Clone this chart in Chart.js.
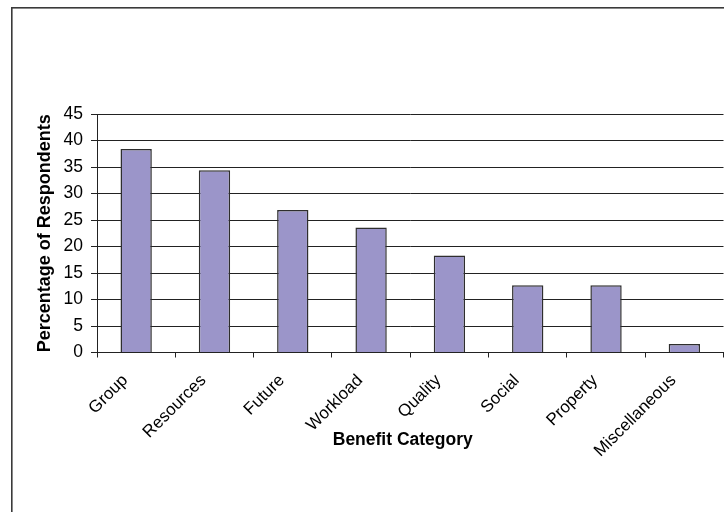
<!DOCTYPE html>
<html>
<head>
<meta charset="utf-8">
<script src="https://cdn.jsdelivr.net/npm/chart.js@4"></script>
<style>
    html, body { margin: 0; padding: 0; background: #fff; }
    #wrap { width: 724px; height: 512px; position: relative; }
</style>
</head>
<body>
<div id="wrap"><canvas id="benefitChart"></canvas></div>
<script>
// Benefit categories and share of respondents (%)
const categories = ['Group', 'Resources', 'Future', 'Workload', 'Quality', 'Social', 'Property', 'Miscellaneous'];
const percentages = [38.4, 34.4, 26.9, 23.6, 18.3, 12.7, 12.7, 1.6];
const yTicks = [0, 5, 10, 15, 20, 25, 30, 35, 40, 45];
const xTitle = 'Benefit Category';
const yTitle = 'Percentage of Respondents';

const FONT = "'Liberation Sans', Arial, sans-serif";

// Outer frame, like the Excel chart border (only top and left edges show)
const framePlugin = {
    id: 'frame',
    beforeDraw(chart) {
        const ctx = chart.ctx;
        ctx.save();
        ctx.fillStyle = '#fff';
        ctx.fillRect(0, 0, chart.width, chart.height);
        ctx.strokeStyle = '#3a3a3a';
        ctx.lineWidth = 1.6;
        ctx.strokeRect(11.8, 7.8, 730, 520);
        ctx.restore();
    },
    // x title drawn by hand: Excel puts it a bit left of the plot centre
    afterDraw(chart) {
        const ctx = chart.ctx;
        const area = chart.chartArea;
        ctx.save();
        ctx.fillStyle = '#000';
        ctx.font = 'bold 17.5px ' + FONT;
        ctx.textAlign = 'center';
        ctx.textBaseline = 'middle';
        ctx.fillText(xTitle, (area.left + area.right) / 2 - 7.5, area.bottom + 88);
        ctx.restore();
    }
};

const ctx = document.getElementById('benefitChart').getContext('2d');
new Chart(ctx, {
    type: 'bar',
    data: {
        labels: categories,
        datasets: [{
            data: percentages,
            backgroundColor: '#9b95c9',
            borderColor: '#2e2e2e',
            borderWidth: 1.5,
            barPercentage: 0.4,
            categoryPercentage: 1
        }]
    },
    options: {
        responsive: true,
        maintainAspectRatio: false,
        animation: false,
        layout: {
            padding: { top: 114, left: 0, right: 0.5, bottom: 49.5 }
        },
        plugins: {
            legend: { display: false },
            tooltip: { enabled: false }
        },
        scales: {
            x: {
                grid: {
                    offset: true,
                    drawOnChartArea: false,
                    drawTicks: true,
                    tickLength: 5,
                    color: '#222'
                },
                border: { color: '#222', width: 1 },
                ticks: {
                    color: '#000',
                    font: { family: FONT, size: 17 },
                    minRotation: 45,
                    maxRotation: 45,
                    autoSkip: false,
                    padding: 13,
                    labelOffset: -11
                },
                // tall box so rotated labels are not clipped
                afterFit: scale => { scale.height = 110; }
            },
            y: {
                min: 0,
                max: 45,
                afterBuildTicks: scale => {
                    scale.ticks = yTicks.map(v => ({ value: v }));
                },
                grid: {
                    color: '#222',
                    lineWidth: 1,
                    tickLength: 6
                },
                border: { color: '#222', width: 1 },
                ticks: {
                    color: '#000',
                    font: { family: FONT, size: 17.5 },
                    padding: 8
                },
                title: {
                    display: true,
                    text: yTitle,
                    color: '#000',
                    font: { family: FONT, size: 18, weight: 'bold' },
                    padding: { top: 34, bottom: 0 }
                },
                afterFit: scale => { scale.width = 97; }
            }
        }
    },
    plugins: [framePlugin]
});
</script>
</body>
</html>
